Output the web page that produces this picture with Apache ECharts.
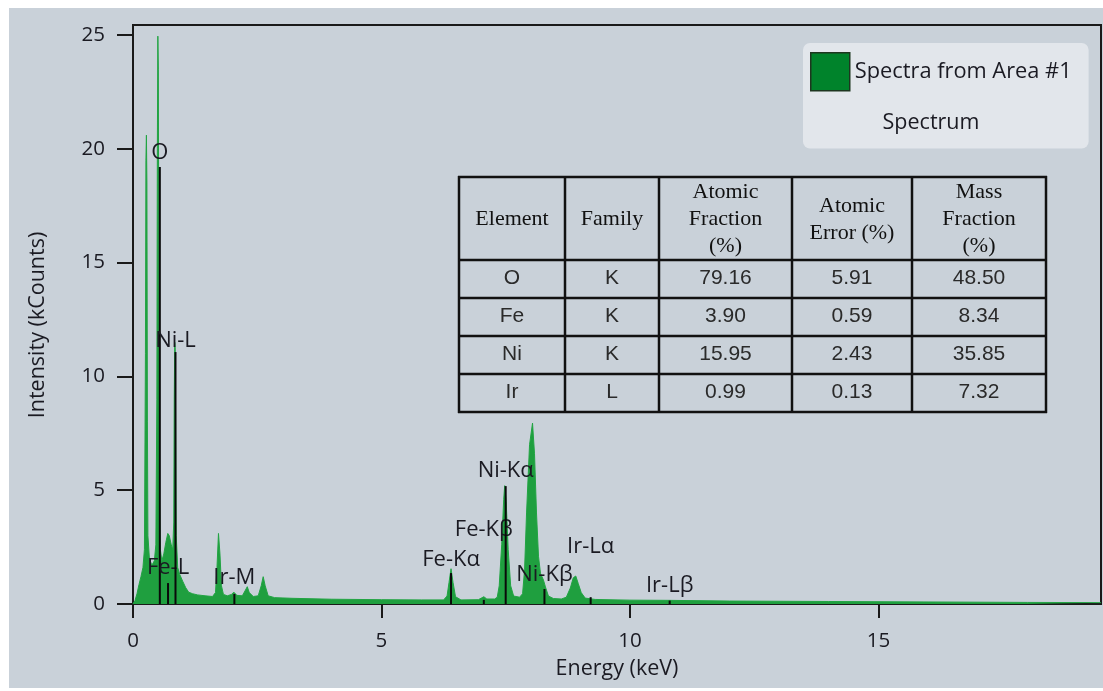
<!DOCTYPE html>
<html><head><meta charset="utf-8">
<script src="https://cdn.jsdelivr.net/npm/echarts@6/dist/echarts.min.js"></script>
<style>html,body{margin:0;padding:0;background:#fff}#c{width:1103px;height:691px}</style>
</head><body><div id="c"></div>
<script>
// ---- Spectrum data (keV, kCounts) ----
const energy = [0.00,0.04,0.08,0.12,0.16,0.20,0.23,0.25,0.26,0.27,0.28,0.29,0.30,0.33,0.38,0.43,0.46,0.48,0.49,0.50,0.51,0.52,0.53,0.55,0.58,0.62,0.66,0.70,0.73,0.77,0.80,0.82,0.83,0.84,0.85,0.86,0.87,0.90,0.94,1.00,1.06,1.12,1.20,1.30,1.45,1.60,1.66,1.69,1.72,1.75,1.78,1.82,1.90,1.98,2.03,2.09,2.20,2.26,2.30,2.34,2.42,2.52,2.58,2.62,2.66,2.72,2.85,3.20,4.00,5.00,5.80,6.25,6.32,6.36,6.40,6.44,6.49,6.60,6.95,7.01,7.06,7.12,7.28,7.33,7.37,7.42,7.46,7.48,7.51,7.55,7.60,7.66,7.78,7.84,7.88,7.92,7.98,8.04,8.08,8.12,8.16,8.20,8.26,8.30,8.36,8.46,8.62,8.72,8.80,8.86,8.91,8.96,9.02,9.10,9.30,10.0,10.8,12.0,14.0,16.0,18.0,19.48];
const counts = [0.00,0.15,0.45,0.85,1.2,1.6,2.4,11,19.5,20.6,18.5,8,3.0,2.0,1.7,1.9,2.6,9,20,24.95,23.5,14,5,2.4,1.9,2.2,2.7,3.1,3.0,2.6,2.4,3.6,9,11.5,11.2,7,3.0,1.6,1.3,1.0,0.72,0.52,0.45,0.40,0.36,0.33,0.5,1.6,3.1,2.2,0.8,0.42,0.36,0.42,0.52,0.38,0.36,0.6,0.76,0.5,0.33,0.36,0.8,1.2,0.8,0.36,0.28,0.25,0.21,0.19,0.18,0.18,0.35,0.95,1.55,0.95,0.32,0.18,0.19,0.26,0.32,0.22,0.22,0.3,0.8,2.6,4.6,5.2,4.5,2.4,0.8,0.35,0.3,0.45,1.5,4.0,7.0,7.95,6.6,4.0,2.1,1.35,1.05,0.75,0.35,0.24,0.22,0.3,0.7,1.15,1.23,0.9,0.5,0.26,0.2,0.17,0.16,0.13,0.11,0.09,0.07,0.06];

// ---- Peak markers ----
const markerNames = ["O","Fe-L","Ni-L","Ir-M","Fe-K\u03b1","Fe-K\u03b2","Ni-K\u03b1","Ni-K\u03b2","Ir-L\u03b1","Ir-L\u03b2"];
const markerEnergy = [0.54,0.705,0.855,2.04,6.40,7.06,7.50,8.28,9.21,10.8];
const markerHeight = [19.2,0.92,11.07,0.44,1.36,0.18,5.18,0.66,0.30,0.15];
const markerLabelLevel = [19.82,1.58,11.56,1.14,1.93,3.25,5.84,1.27,2.50,0.79];

// ---- Axis ticks ----
const xTicks = [0,5,10,15];
const yTicks = [0,5,10,15,20,25];

// ---- Table ----
const tableHeaders = ["Element","Family","Atomic\nFraction\n(%)","Atomic\nError (%)","Mass\nFraction\n(%)"];
const tableElements = ["O","Fe","Ni","Ir"];
const tableFamilies = ["K","K","K","L"];
const atomicFraction = ["79.16","3.90","15.95","0.99"];
const atomicError = ["5.91","0.59","2.43","0.13"];
const massFraction = ["48.50","8.34","35.85","7.32"];

const seriesName = "Spectra from Area #1";
const subLabel = "Spectrum";

const SANS = "'Open Sans', 'Noto Sans', sans-serif";
const TXT = '#1a1a22';

const chart = echarts.init(document.getElementById('c'), null, {renderer:'canvas'});
const spectrum = energy.map((e,i)=>[e,counts[i]]);
const markers = markerNames.map((n,i)=>[markerEnergy[i], markerHeight[i], markerLabelLevel[i], i]);

const els = [];
els.push({type:'rect', shape:{x:9,y:8,width:1094,height:680}, style:{fill:'#c9d1d9'}, z:-100, silent:true});
const colX = [459,565,659,792,912,1046];
const rowY = [177,260,298,336,374,412];
colX.forEach(x=>els.push({type:'line', shape:{x1:x,y1:rowY[0]-1,x2:x,y2:rowY[5]+1}, style:{stroke:'#111',lineWidth:2.5}, z:50}));
rowY.forEach(y=>els.push({type:'line', shape:{x1:colX[0]-1,y1:y,x2:colX[5]+1,y2:y}, style:{stroke:'#111',lineWidth:2.5}, z:50}));
tableHeaders.forEach((h,i)=>{
  els.push({type:'text', z:50, style:{text:h, x:(colX[i]+colX[i+1])/2, y:(rowY[0]+rowY[1])/2+1, textAlign:'center', textVerticalAlign:'middle', fill:'#111', fontFamily:"'Liberation Serif', serif", fontSize:22, lineHeight:27}});
});
const cols = [tableElements, tableFamilies, atomicFraction, atomicError, massFraction];
for (let r=0;r<4;r++){
  cols.forEach((col,i)=>{
    els.push({type:'text', z:50, style:{text:col[r], x:(colX[i]+colX[i+1])/2, y:(rowY[r+1]+rowY[r+2])/2-1, textAlign:'center', textVerticalAlign:'middle', fill:'#2a2a2a', fontFamily:"'Liberation Sans', sans-serif", fontSize:21}});
  });
}
els.push({type:'text', z:60, style:{text:subLabel, x:931, y:123, textAlign:'center', textVerticalAlign:'middle', fill:TXT, fontFamily:SANS, fontSize:21.5}});
els.push({type:'text', z:60, rotation:Math.PI/2, x:38, y:325, style:{text:'Intensity (kCounts)', x:0, y:0, textAlign:'center', textVerticalAlign:'middle', fill:TXT, fontFamily:SANS, fontSize:21.5}});

chart.setOption({
  animation:false,
  backgroundColor:'#ffffff',
  graphic:{elements:els},
  legend:{
    left:803, top:43, orient:'vertical',
    padding:[9,17,57,7],
    backgroundColor:'#e2e6eb', borderRadius:7,
    itemWidth:39, itemHeight:38,
    textStyle:{fontFamily:SANS, fontSize:21.8, color:TXT},
    data:[{name:seriesName, icon:'rect', itemStyle:{color:'#00832b', borderColor:'#1d361f', borderWidth:1.5}}],
    selectedMode:false
  },
  grid:{left:133, right:2, top:25, bottom:87, show:true, borderColor:'#1a1a1a', borderWidth:2, backgroundColor:'transparent'},
  xAxis:{
    type:'value', min:0, max:19.48, interval:5,
    name:'Energy (keV)', nameLocation:'middle', nameGap:54,
    nameTextStyle:{fontFamily:SANS, fontSize:21.5, color:TXT},
    axisLine:{lineStyle:{color:'#1a1a1a', width:2}},
    axisTick:{length:14, lineStyle:{color:'#1a1a1a', width:2}, customValues:xTicks},
    axisLabel:{margin:27, fontFamily:SANS, fontSize:20.5, color:TXT, customValues:xTicks},
    splitLine:{show:false}
  },
  yAxis:{
    type:'value', min:0, max:25.44, interval:5,
    axisLine:{show:true, lineStyle:{color:'#1a1a1a', width:2}},
    axisTick:{show:true, length:16, lineStyle:{color:'#1a1a1a', width:2}, customValues:yTicks},
    axisLabel:{margin:28, fontFamily:SANS, fontSize:20.5, color:TXT, customValues:yTicks},
    splitLine:{show:false}
  },
  series:[
    {
      name:seriesName, type:'line', data:spectrum, showSymbol:false, z:2,
      lineStyle:{color:'#22a443', width:1},
      itemStyle:{color:'#22a443'},
      areaStyle:{color:'#1f9f3f', opacity:1}
    },
    {
      type:'custom', z:5, data:markers, clip:false,
      renderItem:function(params, api){
        const x = api.value(0), h = api.value(1), lv = api.value(2), idx = api.value(3);
        const p0 = api.coord([x,0]), p1 = api.coord([x,h]), pl = api.coord([x,lv]);
        return {type:'group', children:[
          {type:'line', shape:{x1:p0[0],y1:p0[1],x2:p1[0],y2:p1[1]}, style:{stroke:'#0a0a0a', lineWidth:2}},
          {type:'text', style:{text:markerNames[idx], x:pl[0], y:pl[1], textAlign:'center', textVerticalAlign:'middle', fill:TXT, fontFamily:SANS, fontSize:22}}
        ]};
      }
    }
  ]
});
</script></body></html>
